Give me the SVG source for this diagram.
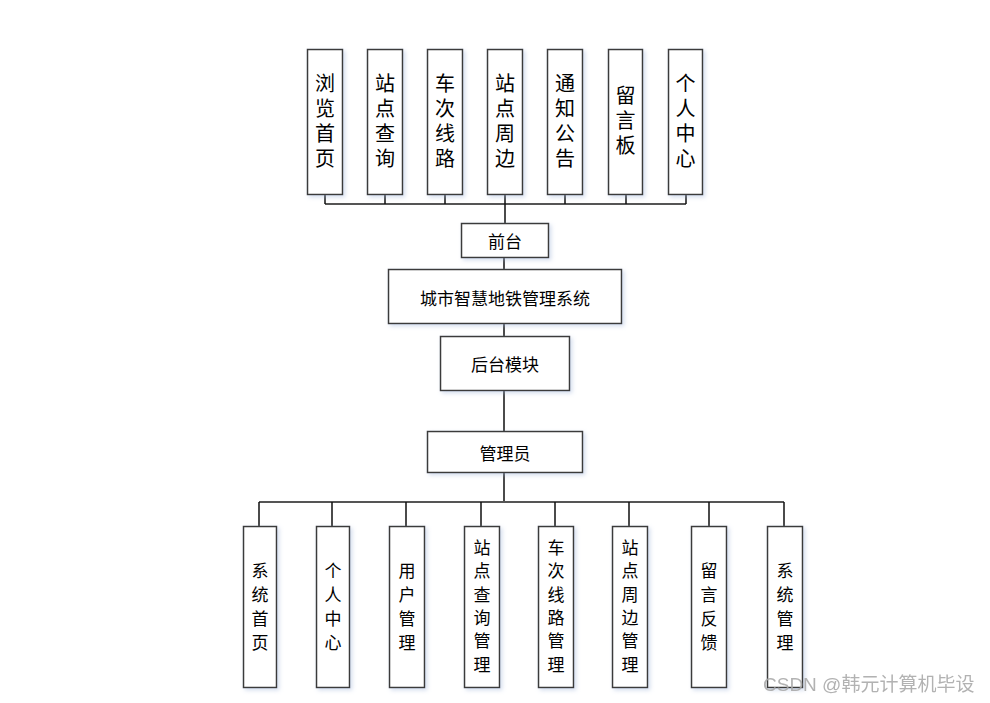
<svg xmlns="http://www.w3.org/2000/svg" width="990" height="703" viewBox="0 0 990 703">
<defs>
<filter id="sh" x="-20%" y="-20%" width="140%" height="140%">
<feDropShadow dx="2" dy="2" stdDeviation="2" flood-color="#9fb4d8" flood-opacity="0.45"/>
</filter>
<style>
.box{fill:#ffffff;stroke:#3a3a3a;stroke-width:1.5;filter:url(#sh)}
.t{font-family:"Noto Sans CJK SC","Liberation Sans",sans-serif;fill:#000;text-anchor:middle}
.v{writing-mode:vertical-rl;text-orientation:upright}
.v1{font-size:20px;letter-spacing:5px}
.v2{font-size:17px;letter-spacing:6.4px}
.v3{font-size:17px;letter-spacing:7px}
.h{font-size:17px;dominant-baseline:central}
.bus{stroke:#555;stroke-width:2;fill:none}
.ln{stroke:#111;stroke-width:1.5;fill:none}
.wm{font-family:"Liberation Sans","Noto Sans CJK SC",sans-serif;font-size:19px;fill:#aaaaaa;opacity:0.9}
</style>
</defs>
<rect width="990" height="703" fill="#ffffff"/>
<g id="connectors">
<path class="bus" d="M325 204H686"/>
<path class="ln" d="M325 194V204M385 194V204M445 194V204M505 194V204M565 194V204M626 194V204M686 194V204"/>
<path class="ln" d="M505 204V223M504 257V269M504 324V336M504 390V431M504 472V502"/>
<path class="bus" d="M259 502H784"/>
<path class="ln" d="M259 502V526M332 502V526M406 502V526M481 502V526M555 502V526M629 502V526M709 502V526M784 502V526"/>
</g>
<g id="n-liulan"><rect class="box" x="307.5" y="49.5" width="35" height="145"/><text class="t v v1" x="325" y="123">浏览首页</text></g>
<g id="n-zdcx"><rect class="box" x="367.5" y="49.5" width="35" height="145"/><text class="t v v1" x="385" y="123">站点查询</text></g>
<g id="n-ccxl"><rect class="box" x="427.5" y="49.5" width="35" height="145"/><text class="t v v1" x="445" y="123">车次线路</text></g>
<g id="n-zdzb"><rect class="box" x="487.5" y="49.5" width="35" height="145"/><text class="t v v1" x="505" y="123">站点周边</text></g>
<g id="n-tzgg"><rect class="box" x="547.5" y="49.5" width="35" height="145"/><text class="t v v1" x="565" y="123">通知公告</text></g>
<g id="n-lyb"><rect class="box" x="608.5" y="49.5" width="34" height="145"/><text class="t v v1" x="625.5" y="123">留言板</text></g>
<g id="n-grzx"><rect class="box" x="668.5" y="49.5" width="34" height="145"/><text class="t v v1" x="685.5" y="123">个人中心</text></g>
<g id="n-qiantai"><rect class="box" x="461.5" y="223.5" width="87" height="34"/><text class="t h" x="505" y="240">前台</text></g>
<g id="n-system"><rect class="box" x="388.5" y="269.5" width="233" height="54"/><text class="t h" x="505" y="297">城市智慧地铁管理系统</text></g>
<g id="n-houtai"><rect class="box" x="440.5" y="336.5" width="129" height="54"/><text class="t h" x="505" y="363">后台模块</text></g>
<g id="n-admin"><rect class="box" x="427.5" y="431.5" width="155" height="41"/><text class="t h" x="505" y="452">管理员</text></g>
<g id="n-xtsy"><rect class="box" x="243.5" y="526.5" width="33" height="161"/><text class="t v v3" x="260" y="610">系统首页</text></g>
<g id="n-grzx2"><rect class="box" x="316.5" y="526.5" width="33" height="161"/><text class="t v v3" x="333" y="610">个人中心</text></g>
<g id="n-yhgl"><rect class="box" x="389.5" y="526.5" width="35" height="161"/><text class="t v v3" x="407" y="610">用户管理</text></g>
<g id="n-zdcxgl"><rect class="box" x="464.5" y="526.5" width="35" height="161"/><text class="t v v2" x="482" y="609">站点查询管理</text></g>
<g id="n-ccxlgl"><rect class="box" x="538.5" y="526.5" width="35" height="161"/><text class="t v v2" x="556" y="609">车次线路管理</text></g>
<g id="n-zdzbgl"><rect class="box" x="612.5" y="526.5" width="35" height="161"/><text class="t v v2" x="630" y="609">站点周边管理</text></g>
<g id="n-lyfk"><rect class="box" x="691.5" y="526.5" width="35" height="161"/><text class="t v v3" x="709" y="610">留言反馈</text></g>
<g id="n-xtgl"><rect class="box" x="767.5" y="526.5" width="35" height="161"/><text class="t v v3" x="785" y="610">系统管理</text></g>
<text class="wm" x="763" y="691">CSDN @韩元计算机毕设</text>
</svg>
